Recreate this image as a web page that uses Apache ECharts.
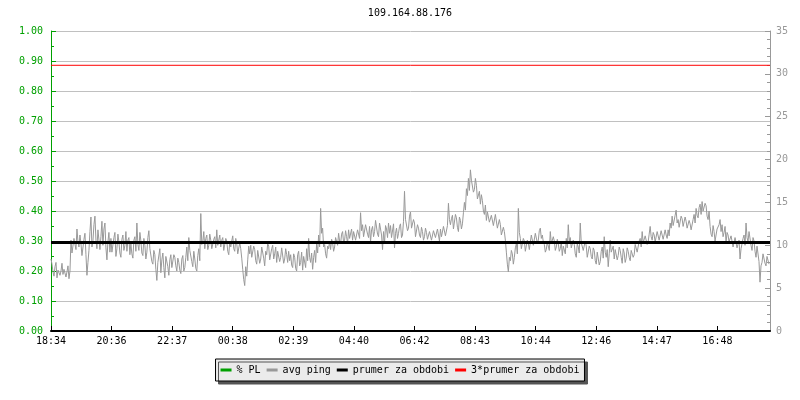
<!DOCTYPE html>
<html><head><meta charset="utf-8">
<script src="https://cdn.jsdelivr.net/npm/echarts@6/dist/echarts.min.js"></script>
<style>html,body{margin:0;padding:0;background:#fff}#c{width:800px;height:400px}</style>
</head><body><div id="c"></div>
<script>
const chartTitle = '109.164.88.176';
const tickLabels = ['18:34','20:36','22:37','00:38','02:39','04:40','06:42','08:43','10:44','12:46','14:47','16:48'];
const tickStepMin = 1456 / 12;   // minutes between time labels
const spanMin = 1440;            // 24 h window
const sampleStepMin = 2;         // minutes between ping samples
const seriesNames = ['% PL', 'avg ping', 'prumer za obdobi', '3*prumer za obdobi'];
// packet loss (left axis, fraction) sampled hourly
const plValues = [0,0,0,0,0,0,0,0,0,0,0,0,0,0,0,0,0,0,0,0,0,0,0,0,0];
const plStepMin = 60;
// average ping in ms (right axis), one reading every 2 minutes
const avgPing = [
8.4,7.8, 6.9,6.4, 7.5,8.0, 6.2,7.1, 7.3,6.5, 7.0,7.9, 6.6,7.2, 7.4,6.3, 6.9,7.6, 6.1,7.0,
10.6,9.1, 9.2,10.8, 11.0,9.5, 11.9,10.4, 9.8,11.2, 10.2,8.8, 9.0,10.7, 11.4,8.9, 6.5,8.0, 9.4,11.6,
13.3,9.8, 10.5,12.4, 13.4,10.6, 9.6,11.8, 12.0,9.5, 11.0,12.8, 10.0,11.9, 12.6,9.7, 8.3,10.4, 11.5,9.2,
10.8,9.2, 9.0,10.9, 11.5,8.7, 9.6,11.3, 10.4,9.1, 8.6,10.7, 11.2,9.4, 10.0,11.6, 9.3,10.6, 10.9,8.9,
10.2,9.0, 8.5,10.6, 11.0,9.3, 12.6,10.1, 9.4,11.5, 10.5,9.1, 8.8,10.8, 10.0,8.4, 9.2,10.9, 11.7,9.6,
9.5,8.1, 7.8,9.4, 8.9,7.2, 5.9,8.0, 8.2,9.6, 6.8,8.3, 9.1,7.4, 6.2,8.7, 8.6,7.5, 6.5,8.3,
8.9,7.4, 7.2,8.9, 8.6,7.6, 7.0,8.5, 8.0,7.1, 6.7,8.4, 8.8,7.0, 7.4,8.6, 9.8,8.2, 10.9,9.4,
9.2,8.1, 7.5,9.3, 8.4,7.3, 7.0,8.8, 9.6,8.2, 13.7,10.1, 10.4,11.6, 9.6,10.8, 11.2,9.5, 10.0,11.3,
10.6,9.6, 9.4,10.7, 11.0,9.7, 11.8,10.0, 10.2,11.2, 9.8,10.6, 10.9,9.4, 9.2,10.8, 10.5,9.3, 8.9,10.4,
9.8,10.5, 11.1,9.6, 9.3,10.8, 10.2,9.0, 8.9,10.3, 9.6,8.5, 7.2,6.0, 5.3,7.5, 6.4,8.3, 9.9,9.0,
10.0,8.6, 8.8,9.9, 9.5,8.2, 7.8,9.4, 9.2,7.9, 8.4,9.8, 9.7,8.5, 7.6,9.3, 8.9,10.2, 9.9,8.3,
8.5,9.6, 10.0,8.4, 9.0,9.8, 8.0,9.3, 9.2,8.1, 8.6,9.7, 9.5,7.9, 8.4,9.6, 8.9,8.0, 9.3,8.2,
8.9,7.7, 7.4,9.0, 8.6,7.3, 7.0,8.9, 9.3,7.6, 8.0,9.2, 7.1,8.7, 8.8,7.4, 9.6,8.2, 10.8,8.6,
8.0,9.1, 7.2,8.6, 9.4,8.0, 10.2,9.1, 11.2,9.8, 14.3,11.4, 12.0,9.8, 10.1,9.0, 8.5,9.9, 9.6,10.5,
9.5,10.7, 10.3,9.3, 9.8,10.9, 10.9,10.0, 11.4,10.5, 10.2,11.3, 11.6,10.3, 10.6,11.7, 11.0,10.2, 11.8,10.8,
11.0,11.9, 10.6,11.6, 11.5,10.6, 10.4,11.8, 11.9,10.8, 13.8,11.7, 12.4,11.0, 11.2,12.4, 12.6,11.3, 10.9,12.2,
10.4,11.8, 12.2,11.0, 11.6,12.9, 12.8,11.3, 11.0,12.6, 12.4,11.2, 9.5,11.6, 10.2,12.3, 11.9,10.9, 12.6,11.4,
12.3,10.9, 11.0,12.5, 9.7,11.4, 12.0,10.8, 11.4,12.2, 12.5,10.9, 11.2,12.8, 16.3,13.0, 13.2,11.7, 12.0,13.4,
13.9,12.0, 11.8,13.0, 12.6,11.0, 11.2,12.4, 12.0,11.2, 10.9,12.1, 11.6,10.6, 11.0,12.0, 11.5,10.7, 10.6,11.6,
11.4,10.6, 10.5,11.7, 11.8,10.9, 10.8,11.9, 11.2,10.5, 11.9,11.0, 10.9,12.2, 12.0,11.1, 11.3,12.3, 14.9,13.0,
12.4,13.1, 13.5,11.9, 12.0,13.6, 13.2,12.1, 11.6,13.3, 12.9,11.9, 12.5,13.8, 15.0,14.1, 16.6,15.8, 17.8,16.4,
18.8,17.6, 17.4,16.2, 16.5,17.8, 17.0,15.4, 15.6,16.3, 14.8,15.9, 15.2,14.0, 13.6,14.7, 12.9,13.9, 13.8,12.7,
12.6,13.5, 13.7,12.3, 12.2,13.6, 13.4,12.0, 11.8,13.0, 12.4,11.2, 11.0,12.1, 11.6,10.6, 9.2,7.8, 6.9,8.6,
8.2,9.4, 9.0,7.8, 8.6,9.7, 10.2,9.0, 14.3,11.5, 10.8,9.6, 9.4,10.8, 10.5,9.3, 9.1,10.6, 10.2,9.5,
10.4,11.2, 11.0,10.0, 10.2,11.4, 11.5,10.3, 10.6,11.7, 12.0,10.8, 11.2,10.4, 10.1,9.2, 9.5,10.4, 10.3,9.4,
11.6,10.2, 10.0,11.0, 10.5,9.4, 9.8,10.7, 10.2,9.3, 9.6,10.4, 8.8,9.9, 9.9,9.0, 10.8,9.7, 12.4,10.5,
10.9,9.7, 9.5,10.6, 10.1,9.0, 8.6,10.2, 9.8,9.1, 12.6,10.3, 10.4,9.4, 9.2,10.5, 9.9,8.6, 8.8,9.9,
9.6,8.7, 8.4,9.7, 9.4,8.2, 7.8,9.2, 9.0,7.7, 8.1,9.3, 9.8,8.5, 11.0,9.2, 8.6,9.5, 7.5,9.0,
10.6,9.2, 9.0,9.9, 8.4,9.5, 9.6,8.3, 8.8,9.8, 9.4,8.6, 7.9,9.6, 9.1,8.0, 8.5,9.7, 9.3,8.6,
8.2,9.4, 9.5,8.6, 8.9,10.1, 10.0,9.2, 9.4,10.5, 10.8,9.8, 11.6,10.3, 10.2,11.1, 11.0,10.1, 10.4,11.3,
12.2,11.0, 10.6,11.5, 11.2,10.4, 10.5,11.6, 11.4,10.6, 10.8,11.7, 11.6,10.7, 10.9,11.8, 11.2,10.8, 11.8,11.1,
12.6,12.0, 13.4,12.3, 12.4,13.5, 14.1,12.6, 13.0,12.1, 12.3,13.4, 13.1,12.2, 12.0,13.3, 12.8,12.0, 11.8,12.9,
12.5,11.8, 12.0,13.0, 13.6,12.6, 14.3,13.5, 13.2,14.4, 14.8,13.6, 15.1,14.0, 13.9,14.9, 14.6,13.4, 13.0,14.0,
12.2,11.3, 11.0,12.3, 11.6,10.5, 10.6,11.9, 11.8,12.4, 13.0,11.6, 12.4,11.0, 11.5,12.2, 10.3,11.5, 11.2,10.4,
10.2,11.1, 11.0,9.8, 10.0,10.9, 10.8,9.7, 9.6,10.6, 8.4,9.6, 10.2,10.8, 11.2,10.0, 12.6,10.9, 10.4,11.6,
11.4,10.0, 9.4,10.9, 10.5,9.3, 8.6,9.9, 9.8,8.1, 5.7,7.6, 8.0,9.0, 9.2,7.9, 7.6,8.7, 8.8,7.8
];
const prumer = 10.33;     // mean ping for the period (ms)
const triPrumer = 31.0;   // 3 * mean
</script>
<script>
const FONT = 'DejaVu Sans Mono';
const GREEN = '#00a000';
const chart = echarts.init(document.getElementById('c'), null, {renderer: 'canvas'});
chart.setOption({
  animation: false,
  backgroundColor: '#ffffff',
  title: {
    text: chartTitle, left: 405, top: 3, textAlign: 'center',
    textStyle: {fontFamily: FONT, fontSize: 10, fontWeight: 'normal', color: '#000'}
  },
  grid: {left: 51, right: 30, top: 31, bottom: 69, containLabel: false},
  legend: {
    data: seriesNames, left: 'center', top: 359, padding: [6, 5], itemGap: 6,
    itemWidth: 11, itemHeight: 3, icon: 'rect',
    backgroundColor: '#ebebeb', borderColor: '#000', borderWidth: 1,
    shadowColor: '#555', shadowOffsetX: 3, shadowOffsetY: 3, shadowBlur: 0,
    textStyle: {fontFamily: FONT, fontSize: 10, color: '#000'}
  },
  xAxis: {
    type: 'value', min: 0, max: spanMin, interval: tickStepMin, z: 5,
    axisLine: {show: true, lineStyle: {color: '#000', width: 2}},
    axisTick: {show: true, inside: true, length: 5, lineStyle: {color: '#000', width: 1}},
    splitLine: {show: false},
    axisLabel: {
      margin: 5, color: '#000', fontFamily: FONT, fontSize: 10, showMaxLabel: false,
      formatter: function (v) {
        const k = Math.round(v / tickStepMin);
        return Math.abs(v - k * tickStepMin) < 1 ? (tickLabels[k] || '') : '';
      }
    }
  },
  yAxis: [{
    type: 'value', position: 'left', min: 0, max: 1, interval: 0.1,
    axisLine: {show: true, lineStyle: {color: GREEN}},
    axisTick: {show: true, inside: true, length: 5, lineStyle: {color: GREEN}},
    minorTick: {show: true, splitNumber: 2, length: 3, lineStyle: {color: GREEN}},
    splitLine: {show: true, lineStyle: {color: '#c0c0c0', width: 1}},
    axisLabel: {margin: 8, color: GREEN, fontFamily: FONT, fontSize: 10,
      formatter: v => v.toFixed(2)}
  }, {
    type: 'value', position: 'right', min: 0, max: 35, interval: 5,
    axisLine: {show: true, lineStyle: {color: '#999'}},
    axisTick: {show: true, inside: true, length: 5, lineStyle: {color: '#999'}},
    minorTick: {show: true, splitNumber: 5, length: 3, lineStyle: {color: '#999'}},
    splitLine: {show: false},
    axisLabel: {margin: 6, color: '#999', fontFamily: FONT, fontSize: 10}
  }],
  series: [{
    name: seriesNames[0], type: 'line', yAxisIndex: 0, showSymbol: false, z: 1,
    color: GREEN, lineStyle: {width: 1, color: GREEN},
    data: plValues.map((v, i) => [i * plStepMin, v])
  }, {
    name: seriesNames[1], type: 'line', yAxisIndex: 1, showSymbol: false, z: 2,
    color: '#999999', lineStyle: {width: 1, color: '#999999'},
    data: avgPing.map((v, i) => [i * sampleStepMin, v])
  }, {
    name: seriesNames[2], type: 'line', yAxisIndex: 1, showSymbol: false, z: 3,
    color: '#000', lineStyle: {width: 3, color: '#000'},
    data: [[0, prumer], [spanMin, prumer]]
  }, {
    name: seriesNames[3], type: 'line', yAxisIndex: 1, showSymbol: false, z: 3,
    color: '#ff0000', lineStyle: {width: 1, color: '#ff0000'},
    data: [[0, triPrumer], [spanMin, triPrumer]]
  }]
});
</script>
</body></html>
